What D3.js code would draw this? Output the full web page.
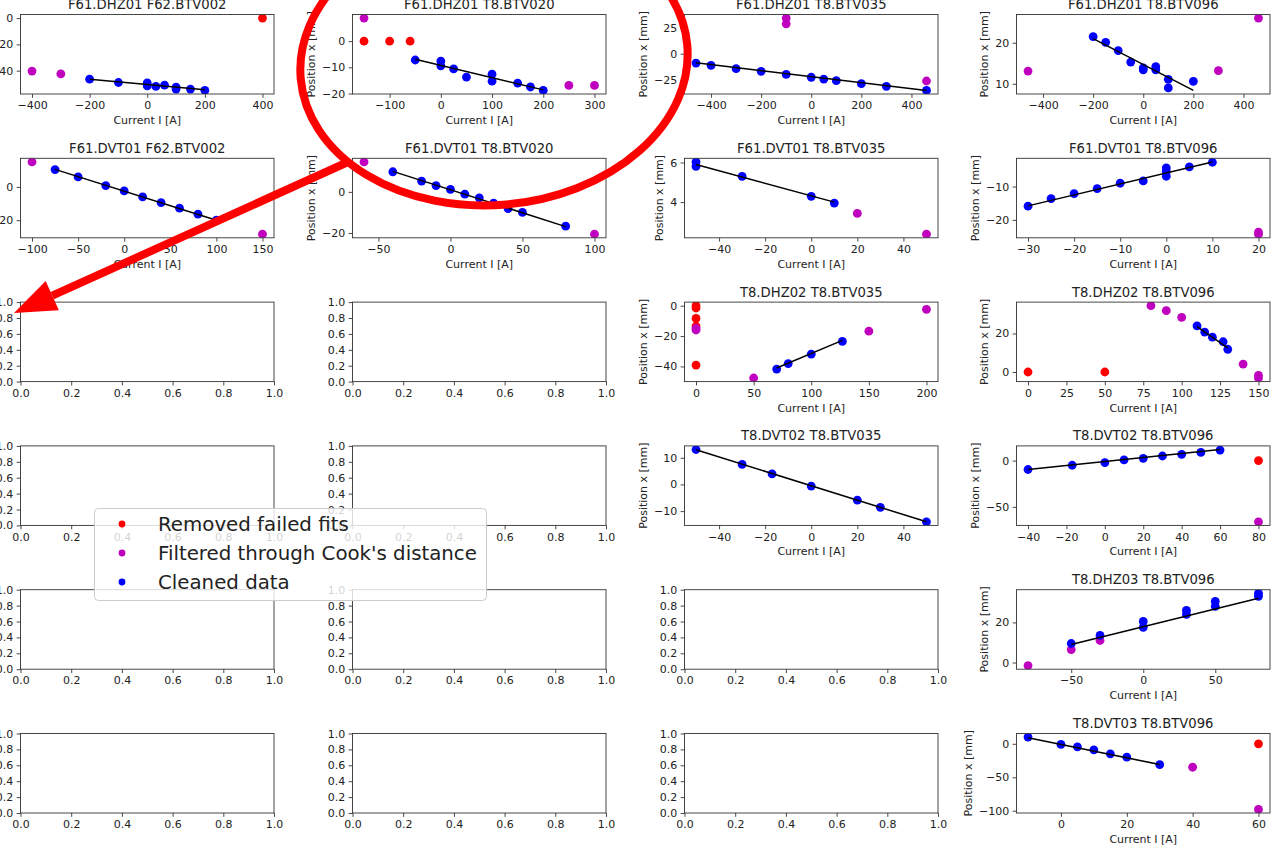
<!DOCTYPE html>
<html><head><meta charset="utf-8">
<script src="https://cdn.jsdelivr.net/npm/d3@7"></script>
<style>body{margin:0;background:#fff;overflow:hidden} svg{display:block} text{font-family:"DejaVu Sans",sans-serif}</style>
</head><body><svg id="c" width="1281" height="850"></svg>
<script>
// ---------- data ----------
const p01_removed = [[400,0]];
const p01_cook = [[-400,-40.3],[-300,-42.5]];
const p01_clean = [[-200,-46.5],[-100,-49],[0,-49.3],[0,-51.6],[30,-52],[60,-51],[100,-52.5],[100,-54],[150,-54],[200,-55]];
const p01_fit = [[-200,-46.5],[200,-54.5]];
const p01_xticks = [-400,-200,0,200,400], p01_yticks = [0,-20,-40];

const p02_removed = [[-150,0],[-100,0],[-60,0]];
const p02_cook = [[-150,8.8],[250,-16.9],[300,-16.9]];
const p02_clean = [[-50,-7.2],[0,-7.6],[0,-9.4],[25,-10.6],[50,-13.7],[100,-12.6],[100,-15.3],[150,-16],[175,-17.5],[200,-18.8]];
const p02_fit = [[-50,-6.9],[200,-18.6]];
const p02_xticks = [-100,0,100,200,300], p02_yticks = [0,-10,-20];

const p03_removed = [];
const p03_cook = [[-100,34.5],[-100,29],[460,-26.4]];
const p03_clean = [[-460,-9],[-400,-11.3],[-300,-14.5],[-200,-17],[-100,-20],[0,-22.8],[50,-24.5],[100,-26.1],[200,-29],[300,-31.6],[460,-35.5]];
const p03_fit = [[-460,-8.8],[460,-35.5]];
const p03_xticks = [-400,-200,0,200,400], p03_yticks = [25,0,-25];

const p04_removed = [];
const p04_cook = [[-460,13.1],[300,13.2],[460,26]];
const p04_clean = [[-200,21.5],[-150,20.1],[-100,18.1],[-50,15.3],[0,13.9],[0,13.4],[50,14.2],[50,13.4],[100,11.1],[100,9.0],[200,10.6]];
const p04_fit = [[-200,21],[200,8.4]];
const p04_xticks = [-400,-200,0,200,400], p04_yticks = [20,10];

const p05_removed = [];
const p05_cook = [[-100,15],[150,-28.4]];
const p05_clean = [[-75,10.4],[-50,6],[-20,0.8],[0,-2.4],[20,-6],[40,-9.4],[60,-12.8],[80,-16.4],[100,-20]];
const p05_fit = [[-75,10.5],[100,-20]];
const p05_xticks = [-100,-50,0,50,100,150], p05_yticks = [0,-20];

const p06_removed = [];
const p06_cook = [[-60,14.6],[100,-20.6]];
const p06_clean = [[-40,9.8],[-20,5.2],[-10,3.1],[0,1.2],[10,-1.1],[20,-2.9],[30,-5.5],[40,-8.1],[50,-10],[80,-16.7]];
const p06_fit = [[-40,10],[80,-16.9]];
const p06_xticks = [-50,0,50,100], p06_yticks = [0,-20];

const p07_removed = [];
const p07_cook = [[20,3.43],[50,2.38]];
const p07_clean = [[-50,6.03],[-50,5.8],[-30,5.3],[0,4.29],[10,3.95]];
const p07_fit = [[-50,5.9],[10,4.0]];
const p07_xticks = [-40,-20,0,20,40], p07_yticks = [6,4];

const p08_removed = [];
const p08_cook = [[20,-23.7],[20,-24.3]];
const p08_clean = [[-30,-15.9],[-25,-13.6],[-20,-12.1],[-15,-10.6],[-10,-9.0],[-5,-8.3],[0,-4.4],[0,-5.5],[0,-6.9],[5,-4.1],[10,-2.7]];
const p08_fit = [[-30,-15.8],[10,-2.6]];
const p08_xticks = [-30,-20,-10,0,10,20], p08_yticks = [-10,-20];

const p11_removed = [[0,0],[0,-1.5],[0,-8.4],[0,-13.4],[0,-39.1]];
const p11_cook = [[0,-14.9],[0,-16],[50,-47.6],[150,-16.8],[200,-2.4]];
const p11_clean = [[70,-41.7],[80,-38.1],[100,-31.9],[127,-23.5]];
const p11_fit = [[70,-41],[127,-22.8]];
const p11_xticks = [0,50,100,150,200], p11_yticks = [0,-20,-40];

const p12_removed = [[0,0],[50,0]];
const p12_cook = [[80,34.4],[90,31.8],[100,28.4],[140,4.1],[150,-1.7],[150,-3.1]];
const p12_clean = [[110,23.9],[115,20.7],[120,18.1],[127,15.7],[130,11.8]];
const p12_fit = [[110,23.6],[130,12.5]];
const p12_xticks = [0,25,50,75,100,125,150], p12_yticks = [20,0];

const p15_removed = [];
const p15_cook = [];
const p15_clean = [[-50,13.1],[-30,7.5],[-17,4.0],[0,-0.6],[20,-5.9],[30,-8.6],[50,-14.0]];
const p15_fit = [[-50,13],[50,-14]];
const p15_xticks = [-40,-20,0,20,40], p15_yticks = [10,0,-10];

const p16_removed = [[80,0]];
const p16_cook = [[80,-66.1]];
const p16_clean = [[-40,-9.6],[-17,-5],[0,-2.1],[10,0.7],[20,2.5],[30,5],[40,6.8],[50,8.9],[60,11.4]];
const p16_fit = [[-40,-9.5],[60,12]];
const p16_xticks = [-40,-20,0,20,40,60,80], p16_yticks = [0,-50];

const p20_removed = [];
const p20_cook = [[-80,-1.5],[-50,6.5],[-30,11]];
const p20_clean = [[-50,9.5],[-30,13.5],[0,20.5],[0,17.5],[30,24],[30,26],[50,30.5],[50,28],[80,33],[80,34.5]];
const p20_fit = [[-50,9],[80,32]];
const p20_xticks = [-50,0,50], p20_yticks = [20,0];

const p24_removed = [[60,0]];
const p24_cook = [[40,-35],[60,-98]];
const p24_clean = [[-10,10],[0,-1],[5,-4.5],[10,-9],[15,-15],[20,-20],[30,-31]];
const p24_fit = [[-10,9],[30,-31]];
const p24_xticks = [0,20,40,60], p24_yticks = [0,-50,-100];

const emptyTicks = [0,0.2,0.4,0.6,0.8,1.0];
const legendLabels = ["Removed failed fits","Filtered through Cook's distance","Cleaned data"];

// ---------- layout / style ----------
const FIG = {x0:20.5, y0:14.5, dx:332, dy:143.8, w:253.5, h:79.5};
const COL = {removed:"#ff0000", cook:"#bf00bf", clean:"#0000ff", fit:"#000000"};
const INK = "#222";
const TICK = 3.85, PAD = 3.5;

const panels = [
 {row:0,col:0,title:"F61.DHZ01 F62.BTV002",removed:p01_removed,cook:p01_cook,clean:p01_clean,fit:p01_fit,xt:p01_xticks,yt:p01_yticks},
 {row:0,col:1,title:"F61.DHZ01 T8.BTV020",removed:p02_removed,cook:p02_cook,clean:p02_clean,fit:p02_fit,xt:p02_xticks,yt:p02_yticks},
 {row:0,col:2,title:"F61.DHZ01 T8.BTV035",removed:p03_removed,cook:p03_cook,clean:p03_clean,fit:p03_fit,xt:p03_xticks,yt:p03_yticks},
 {row:0,col:3,title:"F61.DHZ01 T8.BTV096",removed:p04_removed,cook:p04_cook,clean:p04_clean,fit:p04_fit,xt:p04_xticks,yt:p04_yticks},
 {row:1,col:0,title:"F61.DVT01 F62.BTV002",removed:p05_removed,cook:p05_cook,clean:p05_clean,fit:p05_fit,xt:p05_xticks,yt:p05_yticks},
 {row:1,col:1,title:"F61.DVT01 T8.BTV020",removed:p06_removed,cook:p06_cook,clean:p06_clean,fit:p06_fit,xt:p06_xticks,yt:p06_yticks},
 {row:1,col:2,title:"F61.DVT01 T8.BTV035",removed:p07_removed,cook:p07_cook,clean:p07_clean,fit:p07_fit,xt:p07_xticks,yt:p07_yticks},
 {row:1,col:3,title:"F61.DVT01 T8.BTV096",removed:p08_removed,cook:p08_cook,clean:p08_clean,fit:p08_fit,xt:p08_xticks,yt:p08_yticks},
 {row:2,col:2,title:"T8.DHZ02 T8.BTV035",removed:p11_removed,cook:p11_cook,clean:p11_clean,fit:p11_fit,xt:p11_xticks,yt:p11_yticks},
 {row:2,col:3,title:"T8.DHZ02 T8.BTV096",removed:p12_removed,cook:p12_cook,clean:p12_clean,fit:p12_fit,xt:p12_xticks,yt:p12_yticks},
 {row:3,col:2,title:"T8.DVT02 T8.BTV035",removed:p15_removed,cook:p15_cook,clean:p15_clean,fit:p15_fit,xt:p15_xticks,yt:p15_yticks},
 {row:3,col:3,title:"T8.DVT02 T8.BTV096",removed:p16_removed,cook:p16_cook,clean:p16_clean,fit:p16_fit,xt:p16_xticks,yt:p16_yticks},
 {row:4,col:3,title:"T8.DHZ03 T8.BTV096",removed:p20_removed,cook:p20_cook,clean:p20_clean,fit:p20_fit,xt:p20_xticks,yt:p20_yticks},
 {row:5,col:3,title:"T8.DVT03 T8.BTV096",removed:p24_removed,cook:p24_cook,clean:p24_clean,fit:p24_fit,xt:p24_xticks,yt:p24_yticks}
];
const emptyCells = [[2,0],[2,1],[3,0],[3,1],[4,0],[4,1],[4,2],[5,0],[5,1],[5,2]];

const svg = d3.select("#c");
const intFmt = d3.format("d"), decFmt = d3.format(".1f");

function styleAxis(g){
  g.attr("font-size",11).attr("font-family","DejaVu Sans");
  g.select(".domain").remove();
  g.selectAll(".tick line").attr("stroke","#333").attr("stroke-width",0.9);
  g.selectAll(".tick text").attr("fill",INK);
}

function padded(vals){
  const [a,b] = d3.extent(vals); const m = (b-a)*0.05; return [a-m,b+m];
}

function makeAxes(row,col,x,y,xt,yt,fmt){
  const left = FIG.x0 + col*FIG.dx, top = FIG.y0 + row*FIG.dy;
  const g = svg.append("g").attr("transform",`translate(${left},${top})`);
  const gx = g.append("g").attr("transform",`translate(0,${FIG.h})`)
    .call(d3.axisBottom(x).tickValues(xt).tickSize(TICK).tickPadding(PAD).tickFormat(fmt));
  styleAxis(gx);
  const gy = g.append("g")
    .call(d3.axisLeft(y).tickValues(yt).tickSize(TICK).tickPadding(PAD).tickFormat(fmt));
  styleAxis(gy);
  return {g,gy};
}

function frame(g){
  g.append("rect").attr("width",FIG.w).attr("height",FIG.h)
   .attr("fill","none").attr("stroke","#333").attr("stroke-width",0.9);
}

// empty axes
emptyCells.forEach(([r,c])=>{
  const x = d3.scaleLinear().domain([0,1]).range([0,FIG.w]);
  const y = d3.scaleLinear().domain([0,1]).range([FIG.h,0]);
  const {g} = makeAxes(r,c,x,y,emptyTicks,emptyTicks,decFmt);
  frame(g);
});

panels.forEach((p,i)=>{
  const all = [...p.removed,...p.cook,...p.clean,...p.fit];
  const x = d3.scaleLinear().domain(padded(all.map(d=>d[0]))).range([0,FIG.w]);
  const y = d3.scaleLinear().domain(padded(all.map(d=>d[1]))).range([FIG.h,0]);
  const {g,gy} = makeAxes(p.row,p.col,x,y,p.xt,p.yt,intFmt);
  const cid = "clip"+i;
  g.append("clipPath").attr("id",cid).append("rect").attr("width",FIG.w).attr("height",FIG.h);
  const plot = g.append("g").attr("clip-path",`url(#${cid})`);
  [["removed",p.removed],["cook",p.cook],["clean",p.clean]].forEach(([k,arr])=>{
    plot.selectAll(null).data(arr).join("circle")
      .attr("cx",d=>x(d[0])).attr("cy",d=>y(d[1])).attr("r",4.4).attr("fill",COL[k]);
  });
  plot.append("path").datum(p.fit)
    .attr("d",d3.line().x(d=>x(d[0])).y(d=>y(d[1])))
    .attr("fill","none").attr("stroke",COL.fit).attr("stroke-width",1.5);
  frame(g);
  g.append("text").attr("x",FIG.w/2).attr("y",-5.5).attr("text-anchor","middle")
    .attr("font-size",13.2).attr("fill",INK).text(p.title);
  g.append("text").attr("x",FIG.w/2).attr("y",FIG.h+30).attr("text-anchor","middle")
    .attr("font-size",11).attr("fill",INK).text("Current I [A]");
  let maxW = 0;
  gy.selectAll(".tick text").each(function(){ maxW = Math.max(maxW,this.getBBox().width); });
  const lx = -(TICK+PAD+maxW+4.4+2.6);
  g.append("text").attr("transform",`translate(${lx},${FIG.h/2}) rotate(-90)`)
    .attr("text-anchor","middle").attr("font-size",11).attr("fill",INK).text("Position x [mm]");
});

// legend
const lg = svg.append("g").attr("transform","translate(94,508)");
lg.append("rect").attr("x",0.5).attr("y",0.5).attr("width",392).attr("height",92).attr("rx",4)
  .attr("fill","#fff").attr("fill-opacity",0.8).attr("stroke","#ccc").attr("stroke-width",1);
const legKeys = ["removed","cook","clean"];
legendLabels.forEach((t,i)=>{
  lg.append("circle").attr("cx",28).attr("cy",16+i*29).attr("r",3.4).attr("fill",COL[legKeys[i]]);
  lg.append("text").attr("x",64).attr("y",16+i*29).attr("dy","0.35em").attr("font-size",19.8)
    .attr("fill",INK).text(t);
});

// red annotation
const ann = svg.append("g");
ann.append("ellipse").attr("cx",494).attr("cy",62).attr("rx",194).attr("ry",143)
  .attr("transform","rotate(-5,494,62)")
  .attr("fill","none").attr("stroke","#ff0000").attr("stroke-width",8);
const a0 = [348,162], a1 = [14,313];
const ang = Math.atan2(a1[1]-a0[1], a1[0]-a0[0]);
const hl = 42, hw = 16;
const base = [a1[0]-hl*Math.cos(ang), a1[1]-hl*Math.sin(ang)];
ann.append("line").attr("x1",a0[0]).attr("y1",a0[1]).attr("x2",base[0]).attr("y2",base[1])
  .attr("stroke","#ff0000").attr("stroke-width",8);
ann.append("polygon").attr("points",[
  a1,
  [base[0]+hw*Math.sin(ang), base[1]-hw*Math.cos(ang)],
  [base[0]-hw*Math.sin(ang), base[1]+hw*Math.cos(ang)]
].map(p=>p.join(",")).join(" ")).attr("fill","#ff0000");
</script></body></html>
